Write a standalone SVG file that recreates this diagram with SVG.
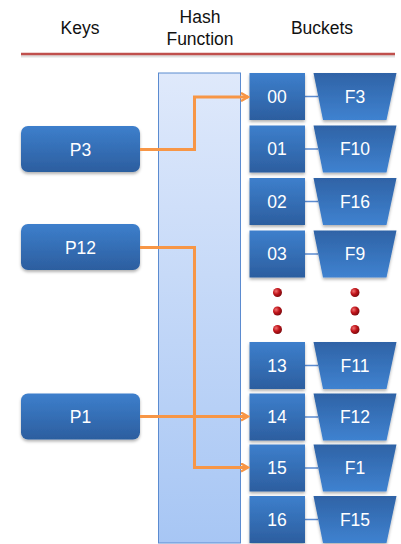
<svg xmlns="http://www.w3.org/2000/svg" width="401" height="544" viewBox="0 0 401 544">
<defs>
<linearGradient id="gBox" x1="0" y1="0" x2="0" y2="1">
<stop offset="0" stop-color="#3d7fcc"/>
<stop offset="1" stop-color="#2c5e9f"/>
</linearGradient>
<linearGradient id="gTrap" x1="0" y1="0" x2="0" y2="1">
<stop offset="0" stop-color="#2f63a6"/>
<stop offset="1" stop-color="#3f82d0"/>
</linearGradient>
<linearGradient id="gHash" x1="0" y1="0" x2="0" y2="1">
<stop offset="0" stop-color="#dfe9fb"/>
<stop offset="1" stop-color="#a7c6f4"/>
</linearGradient>
<radialGradient id="gDot" cx="0.35" cy="0.35" r="0.7">
<stop offset="0" stop-color="#f07070"/>
<stop offset="0.5" stop-color="#c0141a"/>
<stop offset="1" stop-color="#7a0a0e"/>
</radialGradient>
<filter id="sh" x="-20%" y="-20%" width="140%" height="150%">
<feDropShadow dx="0" dy="2" stdDeviation="1.5" flood-color="#000" flood-opacity="0.3"/>
</filter>
<marker id="arr" markerWidth="10" markerHeight="10" refX="8" refY="5" orient="auto" markerUnits="userSpaceOnUse">
<path d="M1,1 L8,5 L1,9" fill="none" stroke="#f79646" stroke-width="2.5"/>
</marker>
<style>
.hdr{font-family:"Liberation Sans",Arial,sans-serif;font-size:17.5px;fill:#111;text-anchor:middle}
.lbl{font-family:"Liberation Sans",Arial,sans-serif;font-size:17.5px;fill:#fff;text-anchor:middle}
.box{fill:url(#gBox);filter:url(#sh)}
.trap{fill:url(#gTrap);filter:url(#sh)}
.link{stroke:#5b8bd0;stroke-width:1.5}
.conn{fill:none;stroke:#f79646;stroke-width:3}
</style>
</defs>
<rect width="401" height="544" fill="#fff"/>
<g id="header">
<text class="hdr" x="80" y="34">Keys</text>
<text class="hdr" x="200" y="23">Hash</text>
<text class="hdr" x="200" y="45">Function</text>
<text class="hdr" x="322" y="34">Buckets</text>
<line x1="21" y1="56" x2="395" y2="56" stroke="#000" stroke-opacity="0.12" stroke-width="3"/>
<line x1="21" y1="54" x2="395" y2="54" stroke="#c0504d" stroke-width="2.5"/>
</g>
<g id="hash">
<rect x="158.5" y="73" width="82" height="470" fill="url(#gHash)" stroke="#5b8bd0" stroke-width="1"/>
</g>
<g id="key-P3"><rect class="box" x="21" y="126" width="119" height="46" rx="7"/><text class="lbl" x="80.5" y="155.5">P3</text></g>
<g id="key-P12"><rect class="box" x="21" y="224" width="119" height="46" rx="7"/><text class="lbl" x="80.5" y="253.5">P12</text></g>
<g id="key-P1"><rect class="box" x="21" y="393.5" width="119" height="46" rx="7"/><text class="lbl" x="80.5" y="423">P1</text></g>

<g id="b00"><line class="link" x1="305" y1="96.5" x2="318" y2="96.5"/><rect class="box" x="249.5" y="73" width="55.5" height="47"/><text class="lbl" x="277" y="102.5">00</text><polygon class="trap" points="313.5,73 396.5,73 386.5,120 323,120"/><text class="lbl" x="355" y="102.5">F3</text></g>
<g id="b01"><line class="link" x1="305" y1="149" x2="318" y2="149"/><rect class="box" x="249.5" y="125.5" width="55.5" height="47"/><text class="lbl" x="277" y="155">01</text><polygon class="trap" points="313.5,125.5 396.5,125.5 386.5,172.5 323,172.5"/><text class="lbl" x="355" y="155">F10</text></g>
<g id="b02"><line class="link" x1="305" y1="201.5" x2="318" y2="201.5"/><rect class="box" x="249.5" y="178" width="55.5" height="47"/><text class="lbl" x="277" y="207.5">02</text><polygon class="trap" points="313.5,178 396.5,178 386.5,225 323,225"/><text class="lbl" x="355" y="207.5">F16</text></g>
<g id="b03"><line class="link" x1="305" y1="254" x2="318" y2="254"/><rect class="box" x="249.5" y="230.5" width="55.5" height="47"/><text class="lbl" x="277" y="260">03</text><polygon class="trap" points="313.5,230.5 396.5,230.5 386.5,277.5 323,277.5"/><text class="lbl" x="355" y="260">F9</text></g>

<g id="dots">
<circle cx="277.5" cy="292.5" r="4.5" fill="url(#gDot)"/>
<circle cx="277.5" cy="311" r="4.5" fill="url(#gDot)"/>
<circle cx="277.5" cy="329.5" r="4.5" fill="url(#gDot)"/>
<circle cx="355" cy="292.5" r="4.5" fill="url(#gDot)"/>
<circle cx="355" cy="311" r="4.5" fill="url(#gDot)"/>
<circle cx="355" cy="329.5" r="4.5" fill="url(#gDot)"/>
</g>

<g id="b13"><line class="link" x1="305" y1="365.5" x2="318" y2="365.5"/><rect class="box" x="249.5" y="342" width="55.5" height="47"/><text class="lbl" x="277" y="371.5">13</text><polygon class="trap" points="313.5,342 396.5,342 386.5,389 323,389"/><text class="lbl" x="355" y="371.5">F11</text></g>
<g id="b14"><line class="link" x1="305" y1="417" x2="318" y2="417"/><rect class="box" x="249.5" y="393.5" width="55.5" height="47"/><text class="lbl" x="277" y="423">14</text><polygon class="trap" points="313.5,393.5 396.5,393.5 386.5,440.5 323,440.5"/><text class="lbl" x="355" y="423">F12</text></g>
<g id="b15"><line class="link" x1="305" y1="468" x2="318" y2="468"/><rect class="box" x="249.5" y="444.5" width="55.5" height="47"/><text class="lbl" x="277" y="474">15</text><polygon class="trap" points="313.5,444.5 396.5,444.5 386.5,491.5 323,491.5"/><text class="lbl" x="355" y="474">F1</text></g>
<g id="b16"><line class="link" x1="305" y1="519.5" x2="318" y2="519.5"/><rect class="box" x="249.5" y="496" width="55.5" height="47"/><text class="lbl" x="277" y="525.5">16</text><polygon class="trap" points="313.5,496 396.5,496 386.5,543 323,543"/><text class="lbl" x="355" y="525.5">F15</text></g>

<g id="connectors">
<polyline class="conn" points="140,149.5 194.5,149.5 194.5,97 248,97" marker-end="url(#arr)"/>
<polyline class="conn" points="140,247.5 194.5,247.5 194.5,467.5 248,467.5" marker-end="url(#arr)"/>
<polyline class="conn" points="140,416.5 248,416.5" marker-end="url(#arr)"/>
</g>
</svg>
